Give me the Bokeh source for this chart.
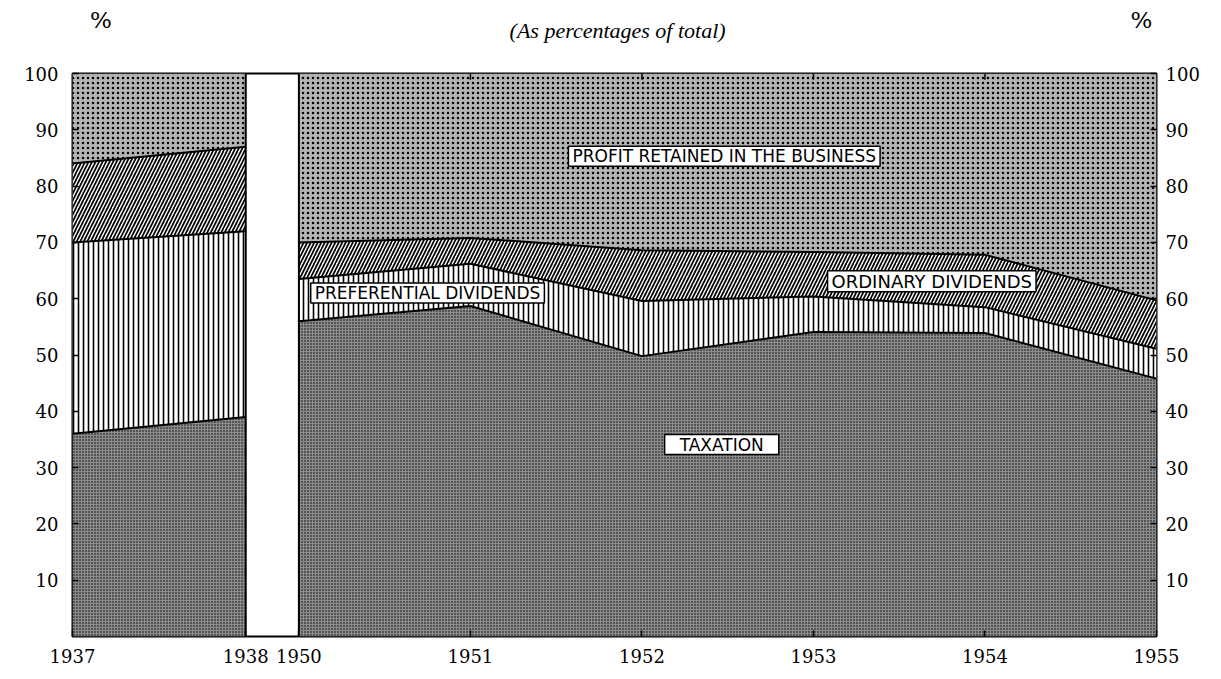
import numpy as np
from bokeh.plotting import figure
from bokeh.layouts import column
from bokeh.models import FixedTicker, LinearAxis, Label, Range1d
from bokeh.core.properties import value
from bokeh.embed import file_html
from bokeh.resources import INLINE

# ---- data ----
years = ["1937", "1938", "1950", "1951", "1952", "1953", "1954", "1955"]
x_pos = [0.0, 1.01, 1.32, 2.32, 3.32, 4.32, 5.32, 6.32]   # axis position of each year (gap 1938-1950)
taxation = [36.0, 39.0, 56.0, 58.7, 49.8, 54.1, 53.9, 45.8]
preferential = [34.0, 33.0, 7.5, 7.5, 9.8, 6.3, 4.6, 5.3]
ordinary = [14.0, 15.0, 6.5, 4.6, 9.0, 7.9, 9.3, 8.6]
# profit retained in the business = remainder to 100
segments = [(0, 2), (2, 8)]
y_ticks = [10, 20, 30, 40, 50, 60, 70, 80, 90, 100]

x = np.array(x_pos)
b1 = np.array(taxation)
b2 = b1 + np.array(preferential)
b3 = b2 + np.array(ordinary)
top = np.full_like(b1, 100.0)
bottom = np.zeros_like(b1)

SERIF = "DejaVu Serif"
SANS = "DejaVu Sans"
W = 1221

# ---- header strip ----
HEAD_H = 60
head = figure(width=W, height=HEAD_H, output_backend="svg", toolbar_location=None,
              x_range=Range1d(0, W), y_range=Range1d(0, HEAD_H), min_border=0,
              x_axis_location=None, y_axis_location=None)
head.outline_line_color = None
head.grid.visible = False
head.background_fill_color = "white"
head.border_fill_color = "white"
head.text(x=[32, 1204], y=[41, 41], text=["%", "%"], text_font=value(SERIF),
          text_font_size="23px", text_align="center", text_baseline="middle", text_color="black")
head.text(x=[614], y=[30], text=["(As percentages of total)"], text_font=value("Liberation Serif"),
          text_font_style="italic", text_font_size="22px", text_align="center",
          text_baseline="middle", text_color="black")

# ---- main chart ----
p = figure(width=W, height=679 - HEAD_H, output_backend="svg", toolbar_location=None,
           x_range=Range1d(0, 6.32), y_range=Range1d(0, 100),
           min_border_left=72, min_border_right=65, min_border_top=13, min_border_bottom=43)
p.background_fill_color = "white"
p.border_fill_color = "white"
p.outline_line_color = "black"
p.outline_line_width = 2
p.grid.visible = False

bands = [
    (bottom, b1, dict(fill_color="#8c8c8c", hatch_pattern="dot", hatch_scale=3, hatch_color="black", hatch_weight=1.0)),
    (b1, b2, dict(fill_color="white", hatch_pattern="vertical_line", hatch_scale=5, hatch_color="black", hatch_weight=1.6)),
    (b2, b3, dict(fill_color="white", hatch_pattern="right_diagonal_line", hatch_scale=7, hatch_color="black", hatch_weight=1.7)),
    (b3, top, dict(fill_color="#b4b4b4", hatch_pattern="dot", hatch_scale=5, hatch_color="black", hatch_weight=3.2)),
]

for s, e in segments:
    xs = x[s:e]
    for lo, hi, style in bands:
        p.varea(x=xs, y1=lo[s:e], y2=hi[s:e], **style)
    for bnd in (b1, b2, b3):
        p.line(xs, bnd[s:e], line_color="black", line_width=2)

# edges of the gap between 1938 and 1950
p.segment(x0=[x_pos[1], x_pos[2]], y0=[0, 0], x1=[x_pos[1], x_pos[2]], y1=[100, 100],
          line_color="black", line_width=2)
# small inward ticks along the top edge
p.segment(x0=x_pos[3:-1], y0=[100] * 4, x1=x_pos[3:-1], y1=[98.9] * 4, line_color="black", line_width=1.5)

# ---- axes ----
overrides = {xp: yr for xp, yr in zip(x_pos, years)}

def style_axis(ax):
    ax.axis_line_color = None
    ax.major_tick_in = 6
    ax.major_tick_out = 0
    ax.minor_tick_line_color = None
    ax.major_tick_line_color = "black"
    ax.major_tick_line_width = 1.5
    ax.major_label_text_font = SERIF
    ax.major_label_text_font_size = "18px"
    ax.major_label_text_color = "black"

xb = p.below[0]
xb.ticker = FixedTicker(ticks=x_pos)
xb.major_label_overrides = overrides
xb.major_label_standoff = 12
style_axis(xb)

yl = p.left[0]
yl.ticker = FixedTicker(ticks=y_ticks)
yl.major_label_standoff = 14
style_axis(yl)

yr = LinearAxis(ticker=FixedTicker(ticks=y_ticks))
yr.major_label_standoff = 9
style_axis(yr)
p.add_layout(yr, "right")

# ---- boxed series labels ----
def boxed(xv, yv, txt, size="17px", pad=(4, 0)):
    p.add_layout(Label(x=xv, y=yv, text=txt, text_font=SANS, text_font_size=size,
                       text_color="black", text_align="center", text_baseline="middle",
                       background_fill_color="white", border_line_color="black",
                       border_line_width=1.5, padding=pad))

boxed(3.80, 85.3, "PROFIT RETAINED IN THE BUSINESS")
boxed(2.07, 61.0, "PREFERENTIAL DIVIDENDS")
boxed(5.01, 63.1, "ORDINARY DIVIDENDS", size="18px")
boxed(3.785, 34.1, "TAXATION", pad=(15, 0))

layout = column(head, p, spacing=0)
open("out.html", "w").write(file_html(layout, INLINE))
